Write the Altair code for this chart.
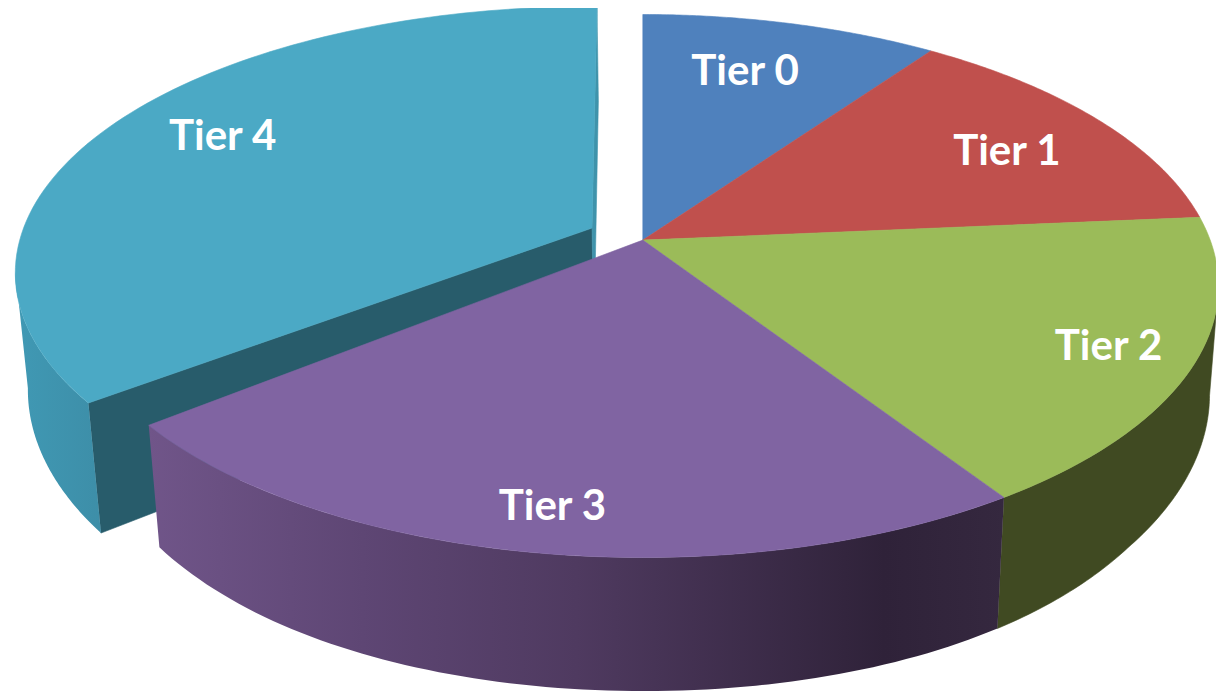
import numpy as np
import pandas as pd
import altair as alt

tiers = ["Tier 0", "Tier 1", "Tier 2", "Tier 3", "Tier 4"]
shares = [9.8, 13.8, 17.2, 23.4, 35.8]

top_colors = ["#4f81bd", "#c0504d", "#9bbb59", "#8064a2", "#4ba9c5"]
label_reach = [0.75, 0.772, 0.855, 0.87, 0.79]
label_turn = [-2.0, 1.8, 0.0, 0.0, 2.7]
LABEL_DROP = 2

# picture frame, in reference pixels
FRAME_X = [8, 1223]
FRAME_Y = [692, 8]
# perspective view of the pie's disc
CX, CY, RX, RY, TILT = 646.5, 286.0, 579.0, 271.5, 0.169
VANISH_X, VANISH_Y = 700.0, 6800.0
EXPLODED_TURN = 1.0


def disc(theta_deg, r=1.0):
    t = np.radians(np.asarray(theta_deg, dtype=float))
    u0, v0 = r * np.sin(t), r * np.cos(t)
    den = 1 + TILT * v0
    v = (v0 + TILT) / den
    u = u0 * np.sqrt(1 - TILT ** 2) / den
    return CX + RX * u, CY - RY * v


def exploded(x, y):
    dx, dy = x - CX, y - 240.0
    return 595.4 + 1.0 * dx - 0.0221 * dy, 228 + 0.005 * dx + 0.982 * dy


def lowered(x, y, extra=0.0):
    near = 122 + 0.125 * (y - 425) - 0.00062 * (y - 425) * (y - 497)
    far = 122 + 0.09 * (y - 425)
    depth = np.where(y < 425, far, near) + extra
    yy = y + depth
    return x + (VANISH_X - x) * depth / (VANISH_Y - yy), yy


def frame(xs, ys):
    xs, ys = np.atleast_1d(xs), np.atleast_1d(ys)
    return pd.DataFrame({"x": xs, "y": ys, "i": np.arange(len(xs))})


def close(xs, ys):
    return np.r_[xs, xs[0]], np.r_[ys, ys[0]]


def polygon(xs, ys, fill):
    xs, ys = close(np.asarray(xs), np.asarray(ys))
    return (
        alt.Chart(frame(xs, ys))
        .mark_line(fill=fill, stroke=fill if isinstance(fill, str) else "#00000000",
                   strokeWidth=0.6 if isinstance(fill, str) else 0, clip=False)
        .encode(
            x=alt.X("x:Q", scale=alt.Scale(domain=FRAME_X), axis=None),
            y=alt.Y("y:Q", scale=alt.Scale(domain=FRAME_Y), axis=None),
            order="i:Q",
        )
    )


edges = np.r_[0, np.cumsum(shares)] / sum(shares) * 360


def sector(th0, th1, transform=None):
    th = np.linspace(th0, th1, 90)
    x, y = disc(th)
    ax, ay = disc(0.0, 0.0)
    x, y = np.r_[ax, x], np.r_[ay, y]
    return transform(x, y) if transform else (x, y)


def wall(th0, th1, transform=None, extra=0.0):
    th = np.linspace(th0, th1, 80)
    x, y = disc(th)
    if transform:
        x, y = transform(x, y)
    lx, ly = lowered(x, y, extra)
    return np.r_[x, lx[::-1]], np.r_[y, ly[::-1]]


def stops(*pairs):
    return alt.Gradient(
        gradient="linear", x1=0, x2=1, y1=0, y2=0,
        stops=[alt.GradientStop(offset=o, color=c) for o, c in pairs],
    )


layers = []

# exploded Tier 4 slice: inner faces, outer wall, top
E = 10.0
t4_start = edges[4] + EXPLODED_TURN
for th, color in ((t4_start, "#285c6b"), (edges[5], "#3f93ab")):
    ax, ay = exploded(*disc(0.0, 0.0))
    px, py = exploded(*disc(th))
    lax, lay = lowered(ax, ay, E)
    lpx, lpy = lowered(px, py, E)
    layers.append(polygon([ax, px, lpx, lax], [ay, py, lpy, lay], color))

wx, wy = wall(t4_start, 260.3, exploded, E)
layers.append(polygon(wx, wy, stops((0, "#4099b4"), (1, "#3d8ea8"))))
layers.append(polygon(*sector(t4_start, edges[5], exploded), top_colors[4]))

# walls of the main body
wx, wy = wall(99.7, edges[3])
layers.append(polygon(wx, wy, "#404a22"))
wx, wy = wall(edges[3], edges[4])
layers.append(polygon(wx, wy, stops(
    (0, "#705589"), (0.25, "#5e4674"), (0.5, "#4f3a60"), (0.86, "#2f2239"), (1, "#35283f"),
)))

# top faces of the main body
for k in range(4):
    layers.append(polygon(*sector(edges[k], edges[k + 1]), top_colors[k]))

# labels
mids = (edges[:-1] + edges[1:]) / 2 + np.array(label_turn)
lab_x, lab_y = disc(mids, np.array(label_reach))
lab_x, lab_y = lab_x.copy(), lab_y.copy()
lab_x[4], lab_y[4] = exploded(lab_x[4], lab_y[4])
labels = pd.DataFrame({"x": lab_x, "y": lab_y + LABEL_DROP, "tier": tiers})
layers.append(
    alt.Chart(labels)
    .mark_text(font="Lato", fontWeight="bold", fontSize=42, color="white", baseline="middle", align="center")
    .encode(
        x=alt.X("x:Q", scale=alt.Scale(domain=FRAME_X), axis=None),
        y=alt.Y("y:Q", scale=alt.Scale(domain=FRAME_Y), axis=None),
        text="tier:N",
    )
)

chart = (
    alt.layer(*layers)
    .properties(width=1208, height=684, padding=0,
                autosize=alt.AutoSizeParams(type="none"), background="white")
    .configure_view(stroke=None)
)
chart.save("out.html", embed_options={"renderer": "svg", "actions": False})
